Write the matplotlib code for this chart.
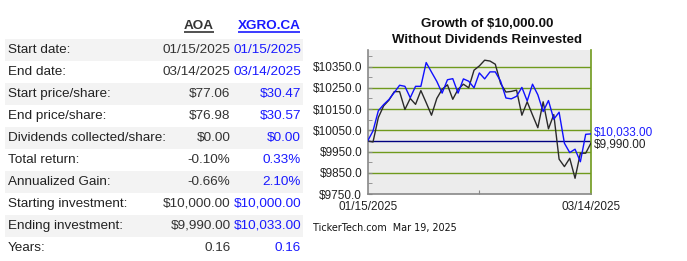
import matplotlib
matplotlib.use("Agg")
import matplotlib.pyplot as plt
from matplotlib.patches import Rectangle

# table data
row_labels = ["Start date:", "End date:", "Start price/share:", "End price/share:",
              "Dividends collected/share:", "Total return:", "Annualized Gain:",
              "Starting investment:", "Ending investment:", "Years:"]
aoa_vals = ["01/15/2025", "03/14/2025", "$77.06", "$76.98", "$0.00", "-0.10%",
            "-0.66%", "$10,000.00", "$9,990.00", "0.16"]
xgro_vals = ["01/15/2025", "03/14/2025", "$30.47", "$30.57", "$0.00", "0.33%",
             "2.10%", "$10,000.00", "$10,033.00", "0.16"]
headers = ["AOA", "XGRO.CA"]

# growth of $10,000
xgro_growth = [10000, 10047, 10142, 10171, 10195, 10228, 10262, 10257, 10203, 10257,
               10257, 10369, 10324, 10280, 10225, 10288, 10293, 10225, 10292, 10281,
               10250, 10320, 10292, 10325, 10325, 10281, 10202, 10198, 10210, 10252,
               10188, 10267, 10217, 10138, 10190, 10102, 10135, 9989, 9945, 9961,
               9902, 10031, 10033]
aoa_growth = [10000, 9995, 10110, 10165, 10192, 10232, 10232, 10148, 10200, 10172,
              10237, 10180, 10121, 10200, 10243, 10264, 10196, 10243, 10267, 10250,
              10333, 10353, 10380, 10376, 10361, 10270, 10230, 10233, 10239, 10121,
              10184, 10122, 10062, 10184, 10057, 10124, 9914, 9879, 9918, 9824,
              9942, 9942, 9990]
x_labels = ["01/15/2025", "03/14/2025"]
y_ticks = [9750, 9850, 9950, 10050, 10150, 10250, 10350]
end_labels = ["$10,033.00", "$9,990.00"]
footer = "TickerTech.com  Mar 19, 2025"

BLUE = "#1a1aff"
DARK = "#333333"
OLIVE = "#6f9a1c"

plt.rcParams["font.family"] = ["Liberation Sans", "DejaVu Sans"]

fig = plt.figure(figsize=(6.87, 2.61), dpi=100)

# pixel-coordinate overlay for the table and loose texts
pa = fig.add_axes([0, 0, 1, 1])
pa.set_xlim(0, 687)
pa.set_ylim(261, 0)
pa.axis("off")

row_h = 22
y0 = 50
for i, (lab, a, b) in enumerate(zip(row_labels, aoa_vals, xgro_vals)):
    yc = y0 + i * row_h
    if i % 2 == 0:
        pa.add_patch(Rectangle((5, yc - 11), 298, 22, facecolor="#f3f3f3", edgecolor="none"))
    pa.text(8, yc, lab, fontsize=9.7, color="#222222", va="center", ha="left")
    pa.text(230.5, yc, a, fontsize=9.7, color=DARK, va="center", ha="right")
    pa.text(301, yc, b, fontsize=9.7, color=BLUE, va="center", ha="right")

renderer = fig.canvas.get_renderer()
for name, xc, col in zip(headers, [199, 269], [DARK, BLUE]):
    t = pa.text(xc, 26, name, fontsize=9.7, fontweight="bold", color=col,
                va="center", ha="center")
    bb = t.get_window_extent(renderer)
    pa.plot([bb.x0, bb.x1], [31.8, 31.8], color=col, lw=1.2, solid_capstyle="butt")

pa.text(487, 24, "Growth of $10,000.00", fontsize=9.5, fontweight="bold",
        color="#111111", ha="center", va="center")
pa.text(487, 40, "Without Dividends Reinvested", fontsize=9.5, fontweight="bold",
        color="#111111", ha="center", va="center")
pa.text(313, 228, footer, fontsize=6.9, family="DejaVu Sans", color="#111111",
        ha="left", va="center")

# chart
ax = fig.add_axes([367.7 / 687, 67 / 261, 223.3 / 687, 144 / 261])
ax.set_facecolor("#ececec")
n = len(xgro_growth)
xs = list(range(n))
for v in y_ticks[1:]:
    ax.axhline(v, color=OLIVE, lw=1.0, zorder=1)
ax.axhline(10000, color="#000080", lw=1.0, zorder=2)
ax.plot(xs, aoa_growth, color="#2a2a2a", lw=1.0, zorder=3)
ax.plot(xs, xgro_growth, color="#1010ff", lw=1.0, zorder=4)

ax.set_xlim(0, n - 1)
ax.set_ylim(9750, 10428)
ax.set_yticks(y_ticks)
ax.set_yticklabels(["$%.1f" % v for v in y_ticks])
ax.set_yticks(list(range(9800, 10428, 100)), minor=True)
ax.tick_params(axis="y", which="both", direction="in", length=3, color="#888888",
               labelsize=8.5, labelcolor="#222222", pad=4)
ax.set_xticks([0, (n - 1) / 2, n - 1])
ax.set_xticklabels([x_labels[0], "", x_labels[1]])
ax.tick_params(axis="x", direction="in", length=3, color="#888888",
               labelsize=8.5, labelcolor="#222222", pad=5)
ax.xaxis.get_major_ticks()[0].tick1line.set_visible(False)
ax.xaxis.get_major_ticks()[2].tick1line.set_visible(False)

ax.spines["top"].set_visible(False)
ax.spines["left"].set_color("#888888")
ax.spines["bottom"].set_color("#888888")
ax.spines["right"].set_color(OLIVE)
for s in ax.spines.values():
    s.set_linewidth(1.2)

ax.annotate(end_labels[0], xy=(n - 1, xgro_growth[-1]), xytext=(2, 1),
            textcoords="offset points", fontsize=8.5, color=BLUE, va="center",
            ha="left", annotation_clip=False)
ax.annotate(end_labels[1], xy=(n - 1, aoa_growth[-1]), xytext=(2, -1),
            textcoords="offset points", fontsize=8.5, color="#222222", va="center",
            ha="left", annotation_clip=False)

fig.savefig("out.png", dpi=100)
